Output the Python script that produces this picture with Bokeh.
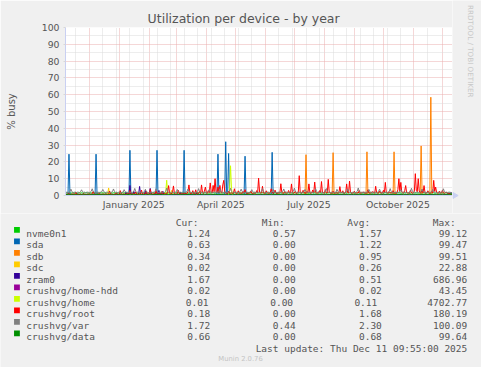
import datetime as dt
import math
from bokeh.plotting import figure
from bokeh.layouts import column, row
from bokeh.models import Range1d, FixedTicker, DatetimeTickFormatter
from bokeh.core.properties import value
from bokeh.embed import file_html
from bokeh.resources import INLINE

# ---------------- data ----------------
first_day = dt.datetime(2024, 11, 7)          # first daily sample
x_start = dt.datetime(2024, 11, 6, 9, 55)
x_end = dt.datetime(2025, 12, 11, 9, 55)

names = ["nvme0n1", "sda", "sdb", "sdc", "zram0", "crushvg/home-hdd",
         "crushvg/home", "crushvg/root", "crushvg/var", "crushvg/data"]
colors = ["#00CC00", "#0066B3", "#FF8000", "#FFCC00", "#330099", "#990099",
          "#CCFF00", "#FF0000", "#808080", "#008F00"]
cur = [1.24, 0.63, 0.34, 0.02, 1.67, 0.02, 0.01, 0.18, 1.72, 0.66]
mins = [0.57, 0.00, 0.00, 0.00, 0.00, 0.00, 0.00, 0.00, 0.44, 0.00]
avgs = [1.57, 1.22, 0.95, 0.26, 0.51, 0.02, 0.11, 1.68, 2.30, 0.68]
maxs = [99.12, 99.47, 99.51, 22.88, 686.96, 43.45, 4702.77, 180.19, 100.09, 99.64]
last_update = "Last update: Thu Dec 11 09:55:00 2025"
y_ticks = [0, 10, 20, 30, 40, 50, 60, 70, 80, 90, 100]
x_label_dates = [dt.datetime(2025, 1, 16), dt.datetime(2025, 4, 16),
                 dt.datetime(2025, 7, 16), dt.datetime(2025, 10, 16)]

nvme0n1 = [
 1.6,1.5,1.7,1.5,1.6,1.4,1.5,1.7,1.6,1.5,1.6,1.5,1.4,1.6,1.7,1.5,1.6,1.5,1.5,1.6,
 1.5,1.7,1.6,1.5,1.4,1.6,1.5,1.6,1.8,1.5,1.6,1.5,1.6,1.4,1.5,1.7,1.6,1.5,1.6,1.5,
 1.6,1.5,1.5,1.7,1.6,1.5,1.4,1.6,1.5,1.6,1.7,1.5,1.6,1.5,1.5,1.6,1.4,1.6,1.7,1.5,
 1.5,1.6,1.7,1.5,1.6,1.5,1.8,1.6,1.5,1.4,1.6,1.5,1.6,1.7,1.5,1.6,1.5,1.5,1.6,1.4,
 1.6,1.5,1.6,1.7,1.5,1.6,1.5,1.4,1.6,1.5,1.7,1.6,1.5,1.5,1.8,1.6,1.5,1.6,1.4,1.5,
 1.7,1.5,1.6,1.5,1.6,1.4,1.5,1.7,1.6,1.5,1.6,1.5,1.5,1.6,1.7,1.5,1.6,1.4,1.5,1.6,
 1.5,1.6,1.8,1.6,1.5,1.5,1.6,1.4,1.5,1.7,1.6,1.5,1.6,1.5,1.4,1.6,1.7,1.5,1.6,1.5,
 1.6,1.5,1.5,1.7,1.6,1.5,1.6,1.5,1.4,1.6,1.5,1.7,1.6,1.5,1.6,1.5,1.5,1.8,1.6,1.5,
 1.5,1.6,1.5,1.6,1.7,1.9,1.6,1.5,1.7,1.6,1.5,1.5,1.6,1.4,1.5,1.7,1.6,1.5,1.6,1.5,
 1.6,1.5,1.4,1.6,1.5,1.8,1.6,1.5,1.6,1.5,1.7,1.5,1.6,1.4,1.5,1.6,1.7,1.5,1.6,1.5,
 1.5,1.6,1.5,1.7,1.6,1.5,1.4,1.6,1.5,1.6,1.5,1.7,1.6,1.8,1.6,1.5,1.5,1.6,1.4,1.6,
 1.6,1.5,1.7,1.5,1.6,1.5,1.6,1.4,1.5,1.6,1.7,1.5,1.6,1.5,1.5,1.6,1.7,1.5,1.4,1.6,
 1.5,1.6,1.5,1.6,1.7,1.5,1.6,1.5,1.8,1.6,1.5,1.4,1.6,1.5,1.7,1.6,1.5,1.6,1.5,1.5,
 1.6,1.5,1.6,1.4,1.5,1.7,1.6,1.5,1.6,1.5,1.5,1.6,1.7,1.5,1.6,1.4,1.5,1.6,1.5,1.7,
 1.5,1.6,1.5,1.6,1.5,1.7,1.6,1.5,1.4,1.6,1.5,1.6,1.7,1.5,1.6,1.5,1.5,1.6,1.4,1.5,
 1.6,1.5,1.7,1.5,1.6,1.5,1.4,1.6,1.5,1.7,1.6,1.5,1.6,1.8,1.5,1.6,1.5,1.4,1.6,1.5,
 1.5,1.6,1.5,1.7,1.6,1.5,1.6,1.5,1.4,1.6,1.7,1.5,1.6,1.5,1.6,1.5,1.7,1.6,1.5,1.4,
 1.6,1.5,1.6,1.5,1.7,1.6,1.5,1.4,1.6,1.5,1.6,1.5,1.7,1.5,1.6,1.5,1.4,1.6,1.5,1.7,
 1.5,1.6,1.5,1.6,1.5,1.4,1.6,1.7,1.5,1.6,1.5,1.6,1.5,1.7,1.6,1.5,1.4,1.5,1.6,1.5,
 1.6,1.5,1.4,1.6,1.5,1.5,1.6,1.4,1.5,1.6,1.5,1.4,1.5,1.6,1.4,1.5,1.4,1.3,1.3,1.2]

sda = [
 0.7,0.6,0.8,24.6,0.9,0.6,0.5,0.6,0.7,0.6,0.5,0.6,0.8,0.6,0.5,0.6,0.7,0.6,0.6,0.5,
 0.6,0.7,0.5,0.6,0.6,0.8,0.6,0.5,0.6,0.7,0.6,24.6,0.8,0.6,0.5,0.6,0.7,0.6,0.5,0.6,
 0.6,0.5,0.7,0.6,0.6,0.8,0.6,0.5,0.6,0.7,0.6,0.5,0.6,0.8,0.6,0.6,0.5,0.7,0.6,0.6,
 0.5,0.6,0.7,0.6,0.6,0.5,26.9,0.9,0.6,0.5,0.6,0.7,0.6,0.5,0.6,0.8,0.6,0.6,0.5,0.7,
 0.6,0.5,0.6,0.7,0.6,0.6,0.5,0.8,0.6,0.6,0.5,0.7,0.6,0.6,26.9,0.8,0.6,0.5,0.6,0.7,
 0.6,0.6,0.5,0.7,0.6,0.5,0.6,0.8,0.6,0.6,0.5,0.6,0.7,0.6,0.5,0.6,0.6,0.8,0.6,0.5,
 0.6,0.7,26.9,0.9,0.6,0.5,0.6,0.7,0.6,0.6,0.5,0.8,0.6,0.6,0.5,0.7,0.6,0.6,0.5,0.6,
 0.7,0.6,0.5,0.6,0.6,0.8,0.6,0.5,0.6,0.7,0.6,0.6,0.5,0.7,0.6,0.6,0.8,24.6,0.9,0.6,
 0.6,0.5,0.7,0.6,0.8,32.0,1.2,0.9,25.0,0.8,0.6,0.5,0.6,0.7,0.6,0.6,0.5,0.6,0.7,0.6,
 0.6,0.5,0.6,0.7,0.6,23.4,0.8,0.6,0.5,0.6,0.7,0.6,0.6,0.5,0.8,0.6,0.6,0.5,0.7,0.6,
 0.6,0.5,0.6,0.7,0.6,0.6,0.5,0.8,0.6,0.6,0.5,0.7,0.6,25.7,0.8,0.6,0.5,0.6,0.7,0.6,
 0.5,0.6,0.7,0.6,0.5,0.6,0.8,0.6,0.5,0.6,0.7,0.6,0.5,0.6,0.6,0.8,0.6,0.5,0.6,0.7,
 0.6,0.5,0.6,0.7,0.6,0.6,0.5,0.8,0.6,0.6,0.5,0.7,0.6,0.5,0.6,0.6,0.8,0.6,0.5,0.6,
 0.7,0.6,0.5,0.6,0.6,0.8,0.6,0.5,0.6,0.7,0.6,0.6,0.5,0.7,0.6,0.5,0.6,0.8,0.6,0.6,
 0.5,0.6,0.7,0.6,0.6,0.5,0.8,0.6,0.6,0.5,0.7,0.6,0.5,0.6,0.6,0.8,0.6,0.5,0.6,0.7,
 0.6,0.5,0.6,0.7,0.6,0.6,0.5,0.8,0.6,0.6,0.5,0.7,0.6,0.6,0.5,0.6,0.8,0.6,0.5,0.6,
 0.6,0.7,0.6,0.5,0.6,0.6,0.8,0.6,0.5,0.6,0.7,0.6,0.6,0.5,0.7,0.6,0.5,0.6,0.8,0.6,
 0.5,0.6,0.7,0.6,0.6,0.5,0.8,0.6,0.6,0.5,0.7,0.6,0.5,0.6,0.6,0.8,0.6,0.5,0.6,0.7,
 0.6,0.5,0.6,0.7,0.6,0.6,0.5,0.8,0.6,0.6,0.5,0.7,0.6,0.6,0.5,0.6,0.8,0.6,0.5,0.6,
 0.6,0.7,0.6,0.5,0.6,0.6,0.8,0.6,0.5,0.6,0.7,0.6,0.6,0.5,0.7,0.6,0.5,0.6,0.7,0.6]

sdb = [
 0.4,0.5,0.3,0.4,0.6,0.4,0.3,0.5,0.4,0.4,0.5,0.3,0.4,0.6,0.4,0.5,0.3,0.4,0.4,0.5,
 0.5,0.4,0.3,0.5,0.4,0.6,0.4,0.3,0.5,0.4,0.4,0.5,0.3,0.4,0.6,0.4,0.5,0.3,0.4,0.4,
 0.3,0.4,0.5,0.4,0.3,0.4,0.6,0.4,0.5,0.3,0.4,0.4,0.5,0.3,0.4,0.5,0.4,0.6,0.3,0.4,
 0.4,0.5,0.3,0.4,0.6,0.4,0.3,0.5,0.4,0.4,0.5,0.3,0.4,0.6,0.4,0.5,0.3,0.4,0.4,0.5,
 0.5,0.4,0.3,0.5,0.4,0.6,0.4,0.3,0.5,0.4,0.4,0.5,0.3,0.4,0.6,0.4,0.5,0.3,0.4,0.4,
 0.3,0.4,0.5,0.4,0.3,0.4,0.6,0.4,0.5,0.3,0.4,0.4,0.5,0.3,0.4,0.5,0.4,0.6,0.3,0.4,
 0.4,0.5,0.3,0.4,0.6,0.4,0.3,0.5,0.4,0.4,0.5,0.3,0.4,0.6,0.4,0.5,0.3,0.4,0.4,0.5,
 0.5,0.4,0.3,0.5,0.4,0.6,0.4,0.3,0.5,0.4,0.4,0.5,0.3,0.4,0.6,0.4,0.5,0.3,0.4,0.4,
 0.3,0.4,0.5,0.4,0.3,0.4,0.6,0.4,0.5,0.3,0.4,0.4,0.5,0.3,0.4,0.5,0.4,0.6,0.3,0.4,
 0.4,0.5,0.3,0.4,0.6,0.4,0.3,0.5,0.4,0.4,0.5,0.3,0.4,0.6,0.4,0.5,0.3,0.4,0.4,0.5,
 0.5,0.4,0.3,0.5,0.4,0.6,0.4,0.3,0.5,0.4,0.4,0.5,0.3,0.4,0.6,0.4,0.5,0.3,0.4,0.4,
 0.3,0.4,0.5,0.4,0.3,0.4,0.6,0.4,0.5,0.3,0.4,0.4,0.5,0.3,0.4,0.5,0.4,0.6,0.3,0.4,
 0.4,0.5,0.3,0.4,0.6,0.4,0.3,0.5,24.3,0.7,0.4,0.5,0.3,0.4,0.6,0.4,0.5,0.3,0.4,0.4,
 0.5,0.4,0.3,0.5,0.4,0.6,0.4,0.3,0.5,0.4,0.4,0.5,0.3,0.4,0.6,0.4,25.5,0.7,0.4,0.5,
 0.3,0.4,0.5,0.4,0.3,0.4,0.6,0.4,0.5,0.3,0.4,0.4,0.5,0.3,0.4,0.5,0.4,0.6,0.3,0.4,
 0.4,0.5,0.3,0.4,0.6,0.4,0.3,0.5,0.4,0.4,0.5,26.0,0.7,0.4,0.6,0.4,0.5,0.3,0.4,0.4,
 0.5,0.4,0.3,0.5,0.4,0.6,0.4,0.3,0.5,0.4,0.4,0.5,0.3,0.4,0.6,0.4,0.5,0.3,0.4,26.0,
 0.7,0.4,0.3,0.5,0.4,0.6,0.4,0.3,0.5,0.4,0.4,0.5,0.3,0.4,0.6,0.4,0.5,0.3,0.4,0.4,
 0.4,0.5,0.3,0.4,0.6,0.4,0.5,29.5,0.8,0.4,0.5,0.3,0.4,0.6,0.4,0.5,0.9,58.5,1.2,0.5,
 0.4,0.5,0.3,0.4,0.6,0.4,0.3,0.5,0.4,0.4,0.5,0.3,0.4,0.6,0.4,0.5,0.3,0.4,0.4,0.3]

sdc = [
 0.2,0.3,0.2,0.1,0.2,0.3,0.2,0.2,0.1,0.3,0.2,0.2,0.3,0.1,0.2,0.2,0.3,0.2,0.1,0.2,
 0.2,0.2,0.3,0.1,0.2,0.3,0.2,0.1,0.2,0.2,0.3,0.2,0.1,0.2,0.2,0.3,0.2,0.2,0.1,0.3,
 0.2,0.3,0.2,0.9,4.5,0.8,0.2,0.2,0.1,0.3,0.2,0.2,0.3,0.1,0.2,0.2,0.3,0.2,0.1,0.2,
 0.2,0.3,0.2,0.1,0.2,0.3,0.2,0.2,0.1,0.3,0.2,0.2,0.3,0.1,0.2,0.2,0.3,0.2,0.1,0.2,
 0.2,0.2,0.3,0.1,0.2,0.3,0.2,0.1,0.2,0.2,0.3,0.2,0.1,0.2,0.2,0.3,0.2,0.2,0.1,0.3,
 0.2,0.3,0.2,0.1,0.2,0.3,0.2,0.2,0.6,3.0,0.7,0.2,0.3,0.1,0.2,0.2,0.3,0.2,0.1,0.2,
 0.2,0.3,0.2,0.1,0.2,0.3,0.2,0.2,0.1,0.3,0.2,0.2,0.3,0.1,0.2,0.2,0.3,0.2,0.1,0.2,
 0.2,0.2,0.3,0.1,0.2,0.3,0.2,0.1,0.2,0.2,0.3,0.2,0.1,0.2,0.2,0.3,0.2,0.2,0.1,0.3,
 0.2,0.3,0.2,0.1,0.2,0.3,0.2,0.2,0.1,0.3,0.2,0.2,0.3,0.1,0.2,0.2,0.3,0.2,0.1,0.2,
 0.2,0.2,0.3,0.1,0.2,0.3,0.2,0.1,0.2,0.2,0.3,0.2,0.1,0.2,0.2,0.3,0.2,0.2,0.1,0.3,
 0.2,0.3,0.2,0.1,0.2,0.3,0.2,0.2,0.1,0.3,0.2,0.2,0.3,0.1,0.2,0.2,0.3,0.2,0.1,0.2,
 0.2,0.2,0.3,0.1,0.2,0.3,0.2,0.1,0.2,0.2,0.3,0.2,0.1,0.2,0.2,0.3,0.2,0.2,0.1,0.3,
 0.2,0.3,0.2,0.1,0.2,0.3,0.2,0.2,0.1,0.3,0.2,0.2,0.3,0.1,0.2,0.2,0.3,0.2,0.1,0.2,
 0.2,0.2,0.3,0.1,0.2,0.3,0.2,0.1,0.2,0.2,0.3,0.2,0.1,0.2,0.2,0.3,0.2,0.2,0.1,0.3,
 0.2,0.3,0.2,0.1,0.2,0.3,0.2,0.2,0.1,0.3,0.2,0.2,0.3,0.1,0.2,0.2,0.3,0.2,0.1,0.2,
 0.2,0.2,0.3,0.1,0.2,0.3,0.2,0.1,0.2,0.2,0.3,0.2,0.1,0.2,0.2,0.3,0.2,0.2,0.1,0.3,
 0.2,0.3,0.2,0.1,0.2,0.3,0.2,0.2,0.1,0.3,0.2,0.2,0.3,0.1,0.2,0.2,0.3,0.2,0.1,0.2,
 0.2,0.2,0.3,0.1,0.2,0.3,0.2,0.1,0.2,0.2,0.3,0.2,0.1,0.2,0.2,0.3,0.2,0.2,0.1,0.3,
 0.2,0.3,0.2,0.1,0.2,0.3,0.2,0.2,0.1,0.3,0.2,0.2,0.3,0.1,0.2,0.2,0.3,0.2,0.1,0.2,
 0.2,0.2,0.3,0.1,0.2,0.3,0.2,0.1,0.2,0.2,0.3,0.2,0.1,0.2,0.2,0.1,0.1,0.0,0.0,0.0]

zram0 = [
 0.4,0.5,0.4,0.3,0.5,0.6,0.4,0.4,0.5,0.3,0.4,0.5,0.4,0.6,0.4,0.3,0.5,0.4,0.4,0.5,
 0.5,0.4,0.6,0.4,0.3,0.5,0.4,0.5,0.4,0.6,0.4,0.5,0.3,0.4,0.5,0.4,0.6,0.4,0.5,0.4,
 0.4,0.5,0.4,0.3,0.5,0.6,0.4,0.4,0.5,0.3,0.4,0.5,0.4,0.6,0.4,0.3,0.5,0.4,0.4,0.5,
 0.5,0.4,2.0,0.6,0.5,0.8,6.0,0.9,0.5,0.6,2.5,0.7,0.5,0.6,0.4,0.9,5.4,0.8,0.5,0.6,
 0.7,0.5,3.0,0.8,0.5,0.6,1.0,4.2,0.9,0.5,0.6,0.4,0.7,0.5,0.6,0.8,3.0,0.7,0.5,0.6,
 2.5,0.6,0.5,0.7,0.4,0.5,0.6,0.4,0.5,0.7,0.5,0.4,0.6,0.5,0.4,0.6,0.5,0.7,2.0,0.5,
 0.4,0.5,0.6,0.4,0.5,0.4,0.6,0.5,0.4,0.5,0.6,0.4,0.5,0.4,0.6,1.8,0.5,0.4,0.5,0.6,
 0.4,0.5,0.4,0.3,0.5,0.6,0.4,0.4,0.5,0.3,0.4,0.5,0.4,0.6,0.4,0.3,0.5,0.4,0.4,0.5,
 0.5,0.4,0.6,0.4,0.3,0.5,0.4,0.5,0.4,0.6,0.4,0.5,0.3,0.4,0.5,0.4,0.6,0.4,0.5,0.4,
 0.4,0.5,0.4,0.3,0.5,0.6,0.4,0.4,0.5,0.3,0.4,0.5,0.4,0.6,0.4,0.3,0.5,0.4,0.4,0.5,
 0.5,0.4,0.6,0.4,0.3,0.5,0.4,0.5,0.4,0.6,0.4,0.5,0.3,0.4,0.5,0.4,0.6,0.4,0.5,0.4,
 0.4,0.5,0.4,0.3,0.5,0.6,0.4,0.4,0.5,0.3,0.4,0.5,0.4,0.6,0.4,0.3,0.5,0.4,0.4,0.5,
 0.5,0.4,0.6,0.4,0.3,0.5,0.4,0.5,0.4,0.6,0.4,0.5,0.3,0.4,0.5,0.4,0.6,0.4,0.5,0.4,
 0.4,0.5,0.4,0.3,0.5,0.6,0.4,0.4,0.5,0.3,0.4,0.5,0.4,0.6,0.4,0.3,0.5,0.4,0.4,0.5,
 0.5,0.4,0.6,0.4,0.3,0.5,0.4,0.5,0.4,0.6,0.4,0.5,0.3,0.4,0.5,0.4,0.6,0.4,0.5,0.4,
 0.4,0.5,0.4,0.3,0.5,0.6,0.4,0.4,0.5,0.3,0.4,0.5,0.4,0.6,0.4,0.3,0.5,0.4,0.4,0.5,
 0.5,0.4,0.6,0.4,0.3,0.5,0.4,0.5,0.4,0.6,0.4,0.5,0.3,0.4,0.5,0.4,0.6,0.4,0.5,0.4,
 0.4,0.5,0.4,0.3,0.5,0.6,0.4,0.4,0.5,0.3,0.4,0.5,0.4,0.6,0.4,0.3,0.5,0.4,0.4,0.5,
 0.5,0.4,0.6,0.4,0.3,0.5,0.4,0.5,0.4,0.6,0.4,0.5,0.3,0.4,0.5,0.4,0.6,0.4,0.5,0.4,
 0.4,0.5,0.4,0.3,0.5,0.6,0.4,0.4,0.5,0.3,0.4,0.5,0.4,0.6,0.4,0.8,1.2,1.5,1.6,1.7]

home_hdd = [
 0,0,0.1,0,0,0,0,0.1,0,0,0,0,0,0.1,0,0,0,0,0,0,
 0,0,0,0,0.1,0,0,0,0,0,0,0.1,0,0,0,0,0,0,0.1,0,
 0,0,0.1,0,0,0,0,0.1,0,0,0,0,0,0.1,0,0,0,0,0,0,
 0,0,0,0,0.1,0,0,0,0,0,0,0.1,0,0,0,0,0,0,0.1,0,
 0,0,0.1,0,0,0,0,0.1,0,0,0,0,0,0.1,0,0,0,0,0,0,
 0,0,0,0,0.1,0,0,0,0,0,0,0.1,0,0,0,0,0,0,0.1,0,
 0,0,0.1,0,0,0,0,0.1,0,0,0,0,0,0.1,0,0,0,0,0,0,
 0,0,0,0,0.1,0,0,0,0,0,0,0.1,0,0,0,0,0,0,0.1,0,
 0,0,0.1,0,0,0,0,0.1,0,0,0,0,0,0.1,0,0,0,0,0,0,
 0,0,0,0,0.1,0,0,0,0,0,0,0.1,0,0,0,0,0,0,0.1,0,
 0,0,0.1,0,0,0,0,0.1,0,0,0,0,0,0.1,0,0,0,0,0,0,
 0,0,0,0,0.1,0,0,0,0,0,0,0.1,0,0,0,0,0,0,0.1,0,
 0,0,0.1,0,0,0,0,0.1,0,0,0,0,0,0.1,0,0,0,0,0,0,
 0,0,0,0,0.1,0,0,0,0,0,0,0.1,0,0,0,0,0,0,0.1,0,
 0,0,0.1,0,0,0,0,0.1,0,0,0,0,0,0.1,0,0,0,0,0,0,
 0,0,0,0,0.1,0,0,0,0,0,0,0.1,0,0,0,0,0,0,0.1,0,
 0,0,0.1,0,0,0,0,0.1,0,0,0,0,0,0.1,0,0,0,0,0,0,
 0,0,0,0,0.1,0,0,0,0,0,0,0.1,0,0,0,0,0,0,0.1,0,
 0,0,0.1,0,0,0,0,0.1,0,0,0,0,0,0.1,0,0,0,0,0,0,
 0,0,0,0,0.1,0,0,0,0,0,0,0.1,0,0,0,0,0,0,0,0]

home = [
 0,0,0,0.1,0,0,0,0,0,0,0.1,0,0,0,0,0,0.1,0,0,0,
 0,0,0,0,0,0.1,0,0,0,0,0,0,0,0.1,0,0,0,0,0,0,
 0,0.1,0,0,0,0,0,0,0,0.1,0,0,0,0,0,0,0,0.1,0,0,
 0,0,0,0.1,0,0,0,0,0,0,0.1,0,0,0,0,0,0.1,0,0,0,
 0,0,0,0,0,0.1,0,0,0,0,0,0,0,0.1,0,0,0,0,0,0,
 0,0.1,0,2.0,9.1,1.5,0.2,0,0,0.1,0,0,0,0,0,0,0,0.1,0,0,
 0,0,0,0.1,0,0,0,0,0,0,0.1,0,0,0,0,0,0.1,0,0,0,
 0,0,0,0,0,0.1,0,0,0,0,0,0,0,0.1,0,0,0,0,0,0,
 0,0.1,0,0,0,0,0,0,0.3,3.0,17.7,4.0,0.3,0,0,0,0,0.1,0,0,
 0,0,0,0.1,0,0,0,0,0,0,0.1,0,0,0,0,0,0.1,0,0,0,
 0,0,0,0,0,0.1,0,0,0,0,0,0,0,0.1,0,0,0,0,0,0,
 0,0.1,0,0,0,0,0,0,0,0.1,0,0,0,0,0,0,0,0.1,0,0,
 0,0,0,0.1,0,0,0,0,0,0,0.1,0,0,0,0,0,0.1,0,0,0,
 0,0,0,0,0,0.1,0,0,0,0,0,0,0,0.1,0,0,0,0,0,0,
 0,0.1,0,0,0,0,0,0,0,0.1,0,0,0,0,0,0,0,0.1,0,0,
 0,0,0,0.1,0,0,0,0,0,0,0.1,0,0,0,0,0,0.1,0,0,0,
 0,0,0,0,0,0.1,0,0,0,0,0,0,0,0.1,0,0,0,0,0,0,
 0,0.1,0,0,0,0,0,0,0,0.1,0,0,0,0,0,0,0,0.1,0,0,
 0,0,0,0.1,0,0,0,0,0,0,0.1,0,0,0,0,0,0.1,0,0,0,
 0,0,0,0,0,0.1,0,0,0,0,0,0,0,0.1,0,0,0,0,0,0]

root = [
 0.8,0.6,0.9,1.2,0.7,0.6,0.8,1.0,0.7,0.6,2.1,0.8,0.7,0.6,0.9,0.8,0.6,0.7,1.1,0.8,
 0.7,0.6,0.8,0.9,0.7,0.6,0.8,1.0,2.4,0.9,0.7,0.6,0.8,0.7,1.3,0.8,0.6,0.7,0.9,0.8,
 0.7,0.9,0.8,0.6,0.7,2.6,1.0,0.8,0.7,0.6,0.9,0.8,1.6,0.7,0.6,0.8,2.9,0.9,0.7,0.8,
 0.9,0.7,0.8,1.2,0.8,0.9,3.0,1.1,0.8,0.7,1.4,0.9,2.2,0.8,0.7,0.9,1.0,0.8,3.2,0.9,
 0.8,1.0,0.9,2.5,0.8,0.7,1.1,3.6,1.0,0.8,0.9,1.3,0.8,2.8,1.0,0.9,0.8,1.2,0.9,2.4,
 1.0,0.9,1.2,1.0,0.9,2.2,5.9,1.4,1.0,0.9,2.0,5.7,1.3,1.0,0.9,1.2,3.1,1.0,0.9,1.1,
 1.0,1.2,0.9,1.4,1.1,1.0,2.4,6.3,1.5,1.0,1.2,2.9,1.1,1.0,3.4,1.2,1.0,1.3,2.7,1.1,
 6.3,1.8,1.2,2.6,5.0,1.6,1.3,2.9,1.7,7.5,2.0,1.4,6.0,2.2,10.0,2.4,1.5,5.0,1.8,6.0,
 1.9,1.4,6.3,9.0,2.2,1.3,1.5,1.2,2.6,1.4,1.3,1.6,1.2,1.4,4.0,1.5,1.2,1.3,2.8,1.4,
 1.3,1.5,1.2,2.4,1.4,3.5,1.5,1.3,1.2,1.6,1.4,2.7,1.3,1.2,1.5,1.4,1.3,2.9,1.6,10.3,
 2.1,1.4,1.6,5.5,1.5,1.3,1.4,2.8,1.6,1.3,1.4,1.5,4.0,1.6,1.3,1.5,3.2,1.4,1.3,1.5,
 1.4,1.6,7.0,1.8,1.4,1.3,2.5,1.5,1.4,1.6,3.0,1.5,1.4,6.9,1.7,1.4,1.5,2.6,1.3,1.5,
 1.6,11.8,2.0,1.5,1.4,3.1,1.6,1.5,1.4,2.4,1.6,6.9,1.7,1.4,1.5,3.3,1.6,8.0,1.8,1.5,
 1.4,1.6,2.9,1.5,8.3,1.7,1.5,1.4,3.5,1.6,1.5,9.6,2.0,1.5,1.4,1.6,2.6,1.5,1.4,1.6,
 1.5,1.4,1.6,5.3,1.7,1.5,2.8,1.4,1.5,1.6,6.9,1.8,1.5,8.6,1.9,1.5,1.4,1.6,2.5,1.5,
 1.4,1.6,1.5,3.0,1.4,1.5,1.6,2.2,1.5,1.4,1.6,1.5,3.4,1.6,1.4,1.5,1.7,2.4,1.5,1.4,
 5.5,1.6,1.5,1.4,2.7,1.6,1.5,1.4,3.1,1.6,7.8,1.8,1.5,1.4,2.3,1.6,1.5,1.4,2.9,1.5,
 1.6,1.4,1.5,3.6,10.0,2.4,7.8,1.9,1.5,1.6,2.8,5.9,1.7,1.5,1.4,1.6,3.2,1.5,1.4,1.6,
 2.6,13.0,3.1,2.2,10.0,2.7,1.6,1.8,3.4,1.5,5.9,1.7,1.4,1.6,2.8,1.5,1.4,1.6,2.5,1.5,
 9.0,2.4,5.0,1.8,1.5,1.4,2.6,1.5,1.4,3.2,1.6,1.4,1.5,2.1,1.4,1.3,1.2,0.9,0.5,0.2]

var = [
 1.9,2.0,1.8,1.9,2.4,3.8,2.3,1.9,1.8,2.0,1.9,1.8,2.0,1.9,1.8,2.3,3.4,2.2,1.9,2.0,
 1.8,1.9,2.0,1.9,1.8,2.0,2.5,4.0,2.4,1.9,1.8,2.0,1.9,2.0,1.8,1.9,2.0,2.4,3.6,2.3,
 1.9,1.8,2.0,1.9,2.0,1.8,1.9,2.0,2.3,3.9,2.4,1.9,2.0,1.8,1.9,2.0,1.9,1.8,2.0,1.9,
 3.5,2.3,1.9,2.0,1.8,1.9,2.0,1.9,1.8,2.0,2.5,4.2,2.4,1.9,2.0,1.8,1.9,2.0,1.9,1.8,
 1.9,2.3,3.7,2.2,2.0,1.8,1.9,2.0,1.9,1.8,2.0,1.9,2.4,4.0,2.3,1.9,1.8,2.0,1.9,2.0,
 1.9,2.0,1.8,2.4,4.4,2.3,1.9,2.0,1.8,1.9,2.0,1.9,1.8,2.0,2.3,3.6,2.2,1.9,2.0,1.8,
 1.9,2.0,1.9,1.8,2.0,2.4,3.9,2.3,1.9,2.0,1.8,1.9,2.0,1.9,1.8,2.0,2.5,4.1,2.3,1.9,
 2.0,1.8,1.9,2.0,1.9,1.8,2.0,2.3,3.6,2.2,1.9,2.0,1.8,1.9,2.0,1.9,1.8,2.0,2.4,4.0,
 2.3,1.9,2.0,1.8,1.9,2.0,1.9,1.8,2.0,2.5,4.3,2.4,1.9,2.0,1.8,1.9,2.0,1.9,1.8,2.0,
 2.4,3.8,2.3,1.9,2.0,1.8,1.9,2.0,1.9,1.8,2.0,2.3,3.5,2.2,1.9,2.0,1.8,1.9,2.0,1.9,
 1.8,2.0,2.4,4.1,2.3,1.9,2.0,1.8,1.9,2.0,1.9,1.8,2.0,2.3,3.7,2.2,1.9,2.0,1.8,1.9,
 2.0,1.9,1.8,2.0,2.4,3.9,2.3,1.9,2.0,1.8,1.9,2.0,1.9,1.8,2.0,2.5,4.4,2.4,1.9,2.0,
 1.8,1.9,2.0,1.9,1.8,2.0,2.3,3.6,2.2,1.9,2.0,1.8,1.9,2.0,1.9,1.8,2.0,2.4,4.0,2.3,
 1.9,2.0,1.8,1.9,2.0,1.9,1.8,2.0,2.5,4.2,2.4,1.9,2.0,1.8,1.9,2.0,1.9,1.8,2.0,1.9,
 3.7,2.3,1.9,2.0,1.8,1.9,2.0,1.9,1.8,2.0,2.4,3.9,2.3,1.9,2.0,1.8,1.9,2.0,1.9,1.8,
 2.0,2.5,4.5,2.4,1.9,2.0,1.8,1.9,2.0,1.9,1.8,2.0,2.3,3.6,2.2,1.9,2.0,1.8,1.9,2.0,
 1.9,1.8,2.0,2.4,3.8,2.3,1.9,2.0,1.8,1.9,2.0,1.9,1.8,2.0,2.4,4.1,2.3,1.9,2.0,1.8,
 1.9,2.0,1.9,1.8,2.0,2.3,3.5,2.2,1.9,2.0,1.8,1.9,2.0,1.9,1.8,2.0,2.5,4.3,2.4,1.9,
 2.0,1.8,1.9,2.0,1.9,1.8,2.0,2.4,3.9,2.3,1.9,2.0,1.8,1.9,2.0,1.9,1.8,2.0,2.3,3.7,
 2.2,1.9,2.0,1.8,1.9,2.0,1.9,1.8,2.0,2.4,4.0,2.3,1.9,2.0,1.8,1.9,2.0,1.9,1.8,1.7]

data = [
 0.7,0.6,0.7,0.8,0.6,0.7,0.7,0.6,0.8,0.7,0.6,0.7,0.7,0.8,0.6,0.7,0.6,0.7,0.8,0.7,
 0.6,0.7,0.7,0.6,0.8,0.7,0.6,0.7,0.7,0.8,0.6,0.7,0.7,0.6,0.7,0.8,0.7,0.6,0.7,0.7,
 0.7,0.8,0.6,0.7,0.7,0.6,0.7,0.8,0.7,0.6,0.7,0.7,0.8,0.6,0.7,0.7,0.6,0.8,0.7,0.7,
 0.6,0.7,0.7,0.8,0.7,0.6,0.7,0.7,0.6,0.8,0.7,0.7,0.6,0.7,0.8,0.7,0.6,0.7,0.7,0.6,
 0.7,0.6,0.7,0.8,0.6,0.7,0.7,0.6,0.8,0.7,0.6,0.7,0.7,0.8,0.6,0.7,0.6,0.7,0.8,0.7,
 0.6,0.7,0.7,0.6,0.8,0.7,0.6,0.7,0.7,0.8,0.6,0.7,0.7,0.6,0.7,0.8,0.7,0.6,0.7,0.7,
 0.7,0.8,0.6,0.7,0.7,0.6,0.7,0.8,0.7,0.6,0.7,0.7,0.8,0.6,0.7,0.7,0.6,0.8,0.7,0.7,
 0.6,0.7,0.7,0.8,0.7,0.6,0.7,0.7,0.6,0.8,0.7,0.7,0.6,0.7,0.8,0.7,0.6,0.7,0.7,0.6,
 0.7,0.6,0.7,0.8,0.6,0.7,0.7,0.6,0.8,0.7,0.6,0.7,0.7,0.8,0.6,0.7,0.6,0.7,0.8,0.7,
 0.6,0.7,0.7,0.6,0.8,0.7,0.6,0.7,0.7,0.8,0.6,0.7,0.7,0.6,0.7,0.8,0.7,0.6,0.7,0.7,
 0.7,0.8,0.6,0.7,0.7,0.6,0.7,0.8,0.7,0.6,0.7,0.7,0.8,0.6,0.7,0.7,0.6,0.8,0.7,0.7,
 0.6,0.7,0.7,0.8,0.7,0.6,0.7,0.7,0.6,0.8,0.7,0.7,0.6,0.7,0.8,0.7,0.6,0.7,0.7,0.6,
 0.7,0.6,0.7,0.8,0.6,0.7,0.7,0.6,0.8,0.7,0.6,0.7,0.7,0.8,0.6,0.7,0.6,0.7,0.8,0.7,
 0.6,0.7,0.7,0.6,0.8,0.7,0.6,0.7,0.7,0.8,0.6,0.7,0.7,0.6,0.7,0.8,0.7,0.6,0.7,0.7,
 0.7,0.8,0.6,0.7,0.7,0.6,0.7,0.8,0.7,0.6,0.7,0.7,0.8,0.6,0.7,0.7,0.6,0.8,0.7,0.7,
 0.6,0.7,0.7,0.8,0.7,0.6,0.7,0.7,0.6,0.8,0.7,0.7,0.6,0.7,0.8,0.7,0.6,0.7,0.7,0.6,
 0.7,0.6,0.7,0.8,0.6,0.7,0.7,0.6,0.8,0.7,0.6,0.7,0.7,0.8,0.6,0.7,0.6,0.7,0.8,0.7,
 0.6,0.7,0.7,0.6,0.8,0.7,0.6,0.7,0.7,0.8,0.6,0.7,0.7,0.6,0.7,0.8,0.7,0.6,0.7,0.7,
 0.7,0.8,0.6,0.7,0.7,0.6,0.7,0.8,0.7,0.6,0.7,0.7,0.8,0.6,0.7,0.7,0.6,0.8,0.7,0.7,
 0.6,0.7,0.7,0.8,0.7,0.6,0.7,0.7,0.6,0.8,0.7,0.7,0.6,0.7,0.8,0.7,0.6,0.7,0.7,0.7]

series = [nvme0n1, sda, sdb, sdc, zram0, home_hdd, home, root, var, data]

# ---------------- layout constants ----------------
W, H = 481, 367
KX, KY = W / 497.0, H / 383.0        # reference pixel -> figure pixel
def X(x):
    return x * KX
def Y(y):
    return y * KY

TXT = "#555555"
AXIS = "#C9D0F2"
BG = "#F0F0F0"
FONT = "DejaVu Sans"
MONO = "DejaVu Sans Mono"

TOP_H = 213
FR_L, FR_T, FR_B = 65, 27, 195         # frame edges in the top figure
SIDE_W = W - 452

def ms(d):
    return (d - dt.datetime(1970, 1, 1)).total_seconds() * 1000.0

def no_frame_align(fig):
    try:
        fig.frame_align = False
    except Exception:
        pass

# ---------------- chart ----------------
p = figure(width=452, height=TOP_H, x_axis_type="datetime",
           x_range=Range1d(x_start, x_end), y_range=Range1d(0, 100),
           output_backend="svg", toolbar_location=None,
           min_border_left=FR_L, min_border_right=0,
           min_border_top=FR_T, min_border_bottom=TOP_H - FR_B,
           background_fill_color="#FFFFFF", border_fill_color=BG,
           outline_line_color=None,
           title="Utilization per device - by year")
no_frame_align(p)
p.title.text_font = FONT
p.title.text_font_size = "12.5px"
p.title.text_font_style = "normal"
p.title.text_color = TXT
p.title.align = "left"
p.title.offset = X(152) - FR_L
p.title.standoff = 3

month_starts = [dt.datetime(2024, 12, 1)] + [dt.datetime(2025, m, 1) for m in range(1, 13)]
biweekly = []
d = dt.datetime(2024, 11, 17)
while d < x_end:
    if all(abs((d - m).total_seconds()) > 1.5 * 86400 for m in month_starts):
        biweekly.append(d)
    d += dt.timedelta(days=14)

p.xgrid.ticker = FixedTicker(ticks=[ms(m) for m in month_starts],
                             minor_ticks=[ms(b) for b in biweekly])
p.ygrid.ticker = FixedTicker(ticks=y_ticks, minor_ticks=[t + 5 for t in y_ticks[:-1]])
for g in (p.xgrid, p.ygrid):
    g.grid_line_color = "#EBAFAF"
    g.grid_line_dash = "1 1"
    g.grid_line_width = 1
    g.minor_grid_line_color = "#DADADA"
    g.minor_grid_line_dash = "1 1"
    g.minor_grid_line_width = 1

p.yaxis.ticker = FixedTicker(ticks=y_ticks)
p.yaxis.major_tick_out = 2
p.yaxis.major_tick_in = 0
p.yaxis.major_tick_line_color = "#D8D8D8"
p.yaxis.minor_tick_line_color = None
p.yaxis.major_label_standoff = 4
p.yaxis.axis_label = "% busy"
p.yaxis.axis_label_text_font = FONT
p.yaxis.axis_label_text_font_size = "10px"
p.yaxis.axis_label_text_font_style = "normal"
p.yaxis.axis_label_text_color = TXT
p.yaxis.axis_label_standoff = 22

p.xaxis.ticker = FixedTicker(ticks=[ms(x) for x in x_label_dates])
fmt = "%B %Y"
p.xaxis.formatter = DatetimeTickFormatter(
    microseconds=fmt, milliseconds=fmt, seconds=fmt, minsec=fmt, minutes=fmt,
    hourmin=fmt, hours=fmt, days=fmt, months=fmt, years=fmt)
p.xaxis.major_tick_line_color = None
p.xaxis.minor_tick_line_color = None
p.xaxis.major_tick_out = 0
p.xaxis.major_label_standoff = 3
for ax in (p.xaxis, p.yaxis):
    ax.axis_line_color = AXIS
    ax.major_label_text_font = FONT
    ax.major_label_text_font_size = "9.3px"
    ax.major_label_text_color = TXT

for vals, c in zip(series, colors):
    xs = [first_day + dt.timedelta(days=i) for i in range(len(vals))]
    p.line(xs, vals, line_color=c, line_width=1)

# ---------------- right strip: watermark + axis arrow ----------------
side = figure(width=SIDE_W, height=TOP_H, x_range=Range1d(0, SIDE_W),
              y_range=Range1d(0, TOP_H), output_backend="svg",
              toolbar_location=None, min_border=0,
              x_axis_location=None, y_axis_location=None,
              background_fill_color=BG, border_fill_color=BG,
              outline_line_color=None)
no_frame_align(side)
side.grid.visible = False
side.text(x=[X(486) - 452], y=[TOP_H - Y(53)], text=["RRDTOOL / TOBI OETIKER"],
          angle=-math.pi / 2, text_font=value(FONT), text_font_size=value("7.2px"),
          text_color="#C8C8C8", text_align="center", text_baseline="middle")
side.scatter(x=[2.2], y=[TOP_H - FR_B], marker="triangle", size=6,
             angle=-math.pi / 2, fill_color=AXIS, line_color=AXIS)

# ---------------- legend area ----------------
LEG_H = H - TOP_H
leg = figure(width=W, height=LEG_H, x_range=Range1d(0, W), y_range=Range1d(0, LEG_H),
             output_backend="svg", toolbar_location=None, min_border=0,
             x_axis_location=None, y_axis_location=None,
             background_fill_color=BG, border_fill_color=BG, outline_line_color=None)
no_frame_align(leg)
leg.grid.visible = False

def LY(y_ref):
    return H - Y(y_ref)

def txt(xs, ys, texts, align="left", font=MONO, size="9.5px", color=TXT):
    leg.text(x=xs, y=ys, text=texts, text_font=value(font),
             text_font_size=value(size), text_color=color,
             text_align=align, text_baseline="alphabetic")

hdr_b = 231.3
txt([X(181), X(270), X(358.3), X(446.7)], [LY(hdr_b)] * 4, ["Cur:", "Min:", "Avg:", "Max:"])

row_b = [243.1 + 12 * i for i in range(len(names))]
nudges = {6: (-1.7, -2.7, -4.7, 0.0)}
leg.rect(x=[X(17)] * len(names), y=[LY(b - 3.6) for b in row_b],
         width=X(6), height=Y(6), fill_color=colors, line_color=None)
txt([X(26.7)] * len(names), [LY(b) for b in row_b], names)
col_right = [216.7, 305.0, 394.0, 482.3]
for k, vals in enumerate([cur, mins, avgs, maxs]):
    xs = [X(col_right[k] + nudges.get(i, (0, 0, 0, 0))[k]) for i in range(len(names))]
    txt(xs, [LY(b) for b in row_b], [f"{v:.2f}" for v in vals], align="right")
txt([X(482.3)], [LY(363.3)], [last_update], align="right")
txt([X(248)], [LY(374.2)], ["Munin 2.0.76"], align="center", font=FONT,
    size="6.8px", color="#C4C4C4")

layout = column(row(p, side), leg)
open("out.html", "w").write(file_html(layout, INLINE))
